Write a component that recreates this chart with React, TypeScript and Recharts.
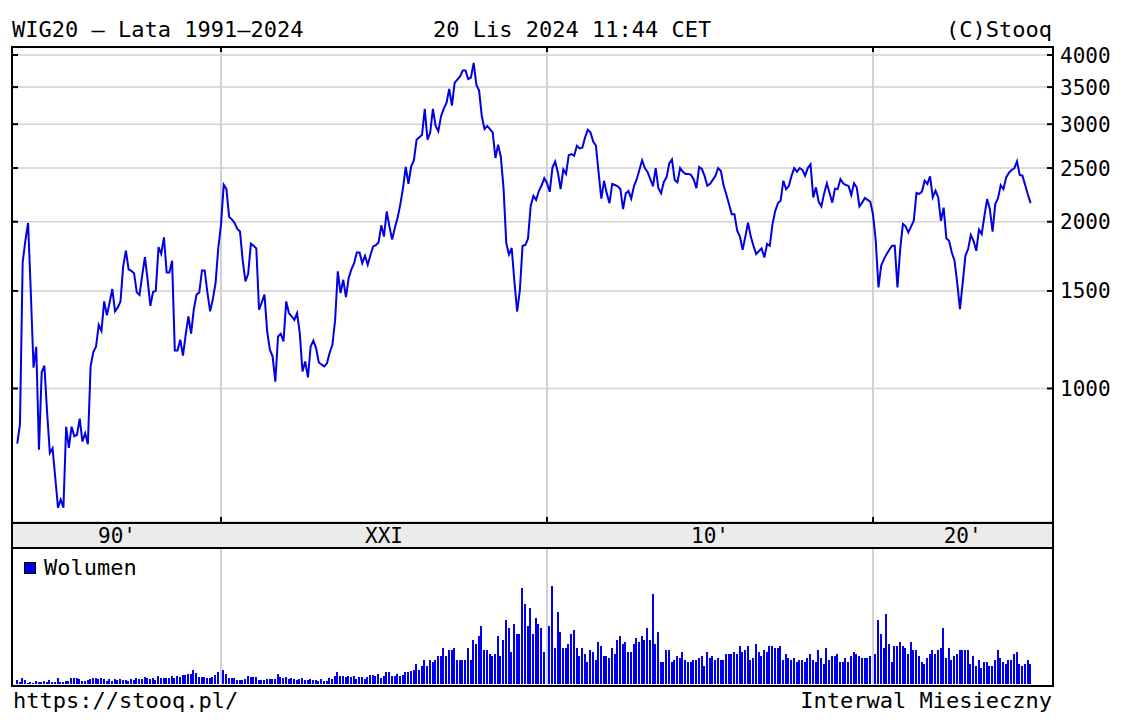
import React from "react";
import { LineChart, Line, BarChart, Bar, XAxis, YAxis, CartesianGrid, ReferenceLine } from "recharts";

const FONT = '"DejaVu Sans Mono", monospace';

// monthly closes, first bar = Oct 1993
const firstYear = 1993;
const firstMonth = 10;

const close1993to1999 = [
  795, 860, 1690, 1850, 1990, 1489, 1090, 1189, 775, 1070,
  1099, 904, 765, 780, 690, 609, 630, 609, 853, 781,
  853, 820, 825, 882, 802, 830, 793, 1096, 1163, 1190,
  1302, 1270, 1436, 1355, 1430, 1512, 1378, 1400, 1436, 1661,
  1773, 1640, 1630, 1615, 1491, 1475, 1600, 1727, 1571, 1410,
  1493, 1500, 1800, 1750, 1874, 1620, 1620, 1700, 1171, 1171,
  1225, 1146, 1250, 1349, 1256, 1391, 1477, 1490, 1633, 1633,
  1490, 1378, 1450, 1550, 1793,
];
const close2000to2009 = [
  1975, 2333, 2290, 2040, 2020,
  1990, 1941, 1920, 1700, 1560, 1610, 1826, 1810, 1790, 1387,
  1430, 1477, 1267, 1175, 1142, 1029, 1241, 1255, 1216, 1436,
  1368, 1350, 1330, 1368, 1259, 1073, 1119, 1047, 1191, 1220,
  1183, 1114, 1105, 1096, 1110, 1160, 1199, 1327, 1627, 1487,
  1571, 1462, 1583, 1640, 1684, 1760, 1760, 1684, 1736, 1673,
  1740, 1805, 1815, 1835, 1970, 1881, 2088, 1960, 1857, 1950,
  2030, 2150, 2300, 2511, 2342, 2517, 2580, 2813, 2840, 2872,
  3196, 2813, 2894, 3196, 2978, 2913, 3100, 3200, 3276, 3473,
  3240, 3561, 3610, 3660, 3752, 3752, 3620, 3640, 3869, 3534,
  3450, 3100, 2940, 2978, 2940, 2900, 2607, 2755, 2618, 2300,
  1830, 1745, 1793, 1560, 1377, 1503, 1809, 1815, 1865, 2136,
  2227, 2190, 2272, 2325, 2397,
];
const close2010to2019 = [
  2347, 2265, 2505, 2568, 2455,
  2290, 2485, 2440, 2637, 2650, 2632, 2742, 2712, 2720, 2838,
  2930, 2900, 2792, 2745, 2450, 2202, 2371, 2250, 2160, 2340,
  2330, 2318, 2292, 2107, 2250, 2272, 2202, 2318, 2384, 2480,
  2582, 2500, 2460, 2390, 2318, 2500, 2300, 2252, 2360, 2405,
  2548, 2590, 2380, 2356, 2500, 2462, 2440, 2440, 2430, 2384,
  2299, 2510, 2490, 2420, 2324, 2340, 2380, 2420, 2500, 2470,
  2324, 2240, 2150, 2063, 2063, 1926, 1882, 1779, 1880, 1993,
  1880, 1809, 1748, 1770, 1790, 1723, 1823, 1809, 1980, 2090,
  2160, 2185, 2372, 2290, 2321, 2420, 2500, 2462, 2500, 2480,
  2422, 2500, 2540, 2213, 2307, 2173, 2132, 2250, 2347, 2254,
  2165, 2295, 2290, 2388, 2347, 2330, 2321, 2234, 2347, 2307,
  2132, 2165, 2207, 2190, 2173,
];
const close2020to2024 = [
  2060, 1850, 1522, 1666, 1710,
  1748, 1780, 1810, 1810, 1522, 1785, 1981, 1962, 1913, 1960,
  2008, 2254, 2245, 2267, 2372, 2340, 2415, 2213, 2276, 2213,
  2008, 2121, 1866, 1848, 1760, 1701, 1550, 1391, 1550, 1736,
  1785, 1893, 1848, 1772, 1935, 1900, 2050, 2197, 2107, 1920,
  2152, 2205, 2327, 2290, 2405, 2450, 2480, 2497, 2570, 2429,
  2422, 2330, 2240, 2161,
];

// monthly volume (relative units)
const volume1993to1999 = [
  4, 2, 5.7, 4, 1.3, 2.3, 1.3, 3.3, 2, 2,
  3.3, 2.3, 4, 2.3, 2.3, 5.7, 2.3, 2.3, 3.3, 3.3,
  5.7, 5.7, 5.7, 4.7, 3.3, 3.3, 4, 4.7, 5.7, 5.7,
  4.7, 5.7, 4.7, 3.3, 4.7, 3.3, 4.7, 4, 5.3, 4,
  4, 3.3, 4.7, 4, 5.7, 4.7, 5.3, 6.7, 5.7, 4.7,
  5.7, 4, 8, 5.7, 5.7, 5.7, 6.5, 8, 5.7, 8,
  7.3, 9, 9.5, 10, 10, 14, 10.7, 6.7, 7.3, 6.7,
  5.7, 6.5, 7.3, 9, 12,
];
const volume2000to2009 = [
  12, 14, 10, 5.7, 5.7,
  5.7, 4, 4, 4, 4.7, 8, 6.7, 6.7, 6.7, 4,
  4, 4, 4.7, 4.7, 4.7, 4.7, 10, 6.7, 5.7, 6.7,
  5, 5.7, 4.7, 4, 4.7, 5.7, 4, 4, 5.3, 4,
  4, 3.3, 4.7, 3.3, 3, 5.7, 5, 8, 12, 8,
  8, 6.7, 8, 7, 8, 5.3, 6.7, 6.7, 5.3, 7.3,
  9, 9, 8, 10, 5.7, 8, 12, 12, 8, 8,
  10, 8, 9, 12, 12, 13, 14, 20, 14, 18,
  24, 18, 24, 22.3, 24, 28, 28, 35.7, 28, 34,
  34, 35.7, 24, 24, 24, 24, 35.7, 24, 44, 40,
  48, 58, 34, 34, 30, 28, 30, 48, 28, 44,
  64, 55.7, 32.3, 60, 50, 50, 95.7, 80, 58, 75.7,
  50, 65.7, 60, 55.7, 32.3,
];
const volume2010to2019 = [
  42, 58, 98, 35.7, 72,
  52, 35.7, 35.7, 40, 50, 54, 35.7, 28, 35.7, 30,
  22, 34, 32, 24, 42, 38, 28, 28, 25.7, 35.7,
  30, 44, 48, 40, 42, 32, 32, 40, 45.7, 42,
  48, 44, 55.7, 44, 90, 40, 52, 22, 22, 34,
  34, 22, 24, 28, 26, 32, 24, 22, 22, 24,
  24, 26, 28, 18, 32, 26, 28, 24, 26, 24,
  24, 30, 30, 30, 32, 30, 38, 32, 34, 38,
  24, 26, 40, 32, 28, 34, 32, 38, 38, 36,
  36, 38, 24, 30, 26, 24, 26, 22, 24, 24,
  22, 26, 30, 24, 22, 34, 26, 20, 36, 24,
  28, 28, 30, 22, 22, 26, 22, 28, 32, 30,
  28, 26, 26, 26, 28,
];
const volume2020to2024 = [
  28, 30, 64, 50, 36,
  70, 40, 22, 38, 38, 42, 38, 36, 30, 42,
  34, 34, 28, 22, 20, 26, 30, 34, 30, 34,
  36, 56, 26, 36, 24, 28, 30, 34, 34, 34,
  34, 20, 28, 18, 24, 16, 22, 22, 18, 18,
  24, 34, 26, 22, 20, 24, 24, 30, 32, 20,
  18, 20, 24, 20,
];

const priceTicks = [1000, 1500, 2000, 2500, 3000, 3500, 4000];
const decadeStarts = [2000, 2010, 2020];
const decadeLabels = ["90'", "XXI", "10'", "20'"];
const decadeLabelAt = [1996.81, 2005, 2015, 2022.75];

const closes = [...close1993to1999, ...close2000to2009, ...close2010to2019, ...close2020to2024];
const volumes = [...volume1993to1999, ...volume2000to2009, ...volume2010to2019, ...volume2020to2024];
const rows = closes.map((close, i) => ({
  t: firstYear + (firstMonth - 1 + i) / 12,
  close,
  vol: volumes[i],
}));

const X_DOMAIN: [number, number] = [1993.62, 2025.49];
const Y_DOMAIN: [number, number] = [574, 4135];
const PLOT_L = 13;
const PLOT_R = 1052;
const PLOT_TOP = 47;
const BLUE = "#0000e2";
const GRID = "#d2d2d2";

function PriceTick(props: any) {
  const { x, y, payload } = props;
  return (
    <g>
      <line x1={PLOT_L} x2={PLOT_L + 5} y1={y} y2={y} stroke="#000" strokeWidth={2} />
      <line x1={PLOT_R - 5} x2={PLOT_R} y1={y} y2={y} stroke="#000" strokeWidth={2} />
      <text x={x} y={y} dy="0.36em" textAnchor="start" fontFamily={FONT} fontSize={21} fill="#000">
        {payload.value}
      </text>
    </g>
  );
}

function DecadeTick(props: any) {
  const { x, y, payload } = props;
  const idx = decadeLabelAt.indexOf(payload.value);
  if (idx >= 0) {
    return (
      <text x={x} y={y + 21} textAnchor="middle" fontFamily={FONT} fontSize={21} fill="#000">
        {decadeLabels[idx]}
      </text>
    );
  }
  return (
    <g stroke="#000" strokeWidth={2}>
      <line x1={x} x2={x} y1={PLOT_TOP} y2={PLOT_TOP + 5} />
      <line x1={x} x2={x} y1={y - 5} y2={y} />
      <line x1={x} x2={x} y1={y + 26} y2={y + 31} />
    </g>
  );
}

const textStyle: React.CSSProperties = {
  position: "absolute",
  fontFamily: FONT,
  fontSize: 22,
  lineHeight: "22px",
  color: "#000",
  whiteSpace: "pre",
};

export default function App() {
  return (
    <div style={{ position: "absolute", left: 0, top: 0, width: 1124, height: 720, background: "#fff", overflow: "hidden" }}>
      <div style={{ position: "absolute", left: 13, top: 524, width: 1039, height: 23, background: "#ebebeb" }} />

      <div style={{ position: "absolute", left: 0, top: 0 }}>
        <LineChart width={1124} height={552} data={rows} margin={{ top: PLOT_TOP, right: 0, left: PLOT_L, bottom: 4 }}>
          <CartesianGrid vertical={false} stroke={GRID} strokeWidth={1.5} />
          {decadeStarts.map((d) => (
            <ReferenceLine key={d} x={d} stroke={GRID} strokeWidth={2} />
          ))}
          <XAxis
            dataKey="t"
            type="number"
            domain={X_DOMAIN}
            allowDataOverflow
            ticks={[...decadeLabelAt, ...decadeStarts].sort((a, b) => a - b)}
            interval={0}
            height={26}
            axisLine={false}
            tickLine={false}
            tickSize={0}
            tickMargin={0}
            tick={<DecadeTick />}
          />
          <YAxis
            orientation="right"
            scale="log"
            domain={Y_DOMAIN}
            allowDataOverflow
            ticks={priceTicks}
            interval={0}
            width={72}
            axisLine={false}
            tickLine={false}
            tickSize={0}
            tickMargin={8}
            tick={<PriceTick />}
          />
          <Line type="linear" dataKey="close" stroke={BLUE} strokeWidth={2} dot={false} isAnimationActive={false} />
        </LineChart>
      </div>

      <div style={{ position: "absolute", left: 0, top: 548 }}>
        <BarChart width={1124} height={138} data={rows} margin={{ top: 0, right: 72, left: PLOT_L, bottom: 2 }}>
          {decadeStarts.map((d) => (
            <ReferenceLine key={d} x={d} stroke={GRID} strokeWidth={2} />
          ))}
          <XAxis dataKey="t" type="number" domain={X_DOMAIN} allowDataOverflow hide />
          <YAxis domain={[0, 136]} allowDataOverflow hide />
          <Bar dataKey="vol" fill="#0000ee" barSize={2} shapeRendering="crispEdges" isAnimationActive={false} />
        </BarChart>
      </div>

      {/* frame */}
      <div style={{ position: "absolute", left: 11, top: 46, width: 1043, height: 641, border: "2px solid #000", boxSizing: "border-box" }} />
      <div style={{ position: "absolute", left: 11, top: 522, width: 1043, height: 2, background: "#000" }} />
      <div style={{ position: "absolute", left: 11, top: 547, width: 1043, height: 2, background: "#000" }} />

      {/* legend */}
      <div style={{ position: "absolute", left: 24, top: 562, width: 12, height: 12, background: "#0000ee", border: "1.5px solid #000", boxSizing: "border-box" }} />
      <div style={{ ...textStyle, left: 44, top: 557 }}>Wolumen</div>

      {/* header / footer */}
      <div style={{ ...textStyle, left: 12, top: 19 }}>WIG20 – Lata 1991–2024</div>
      <div style={{ ...textStyle, left: 433, top: 19 }}>20 Lis 2024 11:44 CET</div>
      <div style={{ ...textStyle, right: 72, top: 19, textAlign: "right" }}>(C)Stooq</div>
      <div style={{ ...textStyle, left: 13, top: 690 }}>https://stooq.pl/</div>
      <div style={{ ...textStyle, right: 72, top: 690, textAlign: "right" }}>Interwal Miesieczny</div>
    </div>
  );
}
